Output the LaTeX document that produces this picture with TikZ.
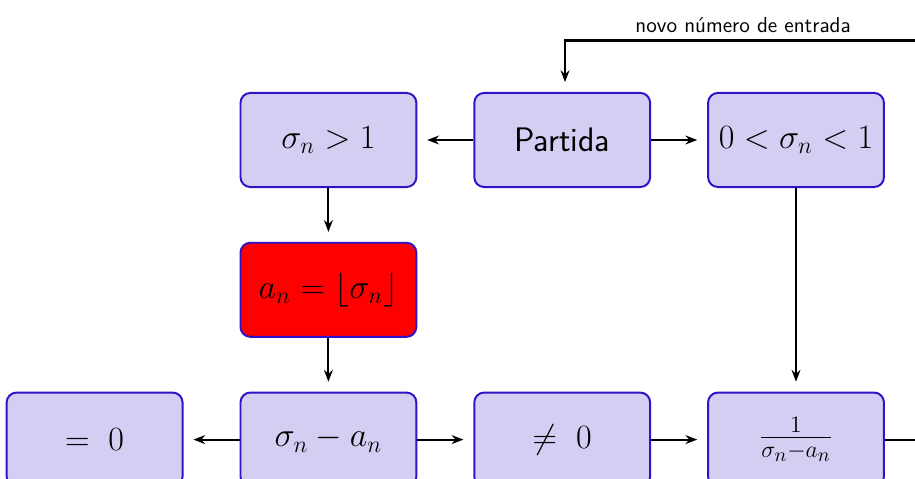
\documentclass[tikz,border=0pt]{standalone}
\usetikzlibrary{arrows.meta,positioning}
\definecolor{CaixaFill}{RGB}{211,206,242}
\definecolor{CaixaLine}{RGB}{45,20,200}
\tikzset{
  caixa/.style={rectangle,rounded corners=5pt,draw=CaixaLine,fill=CaixaFill,line width=1pt,minimum width=3.14cm,minimum height=1.68cm,align=center,font=\LARGE},
  seta/.style={-{Stealth[length=6pt]},line width=1.1pt,shorten >=5pt},
}
\begin{document}
\begin{tikzpicture}[node distance=1cm]
  \useasboundingbox (-10.04,-6.05) rectangle (6.30,2.5);
  \clip (-10.04,-6.05) rectangle (6.30,2.5);

  % ── Linha de cima ──
  \node[caixa] (partida) {\textsf{Partida}};
  \node[caixa, left=1cm of partida] (maior) {$\sigma_n > 1$};
  \node[caixa, right=1cm of partida] (menor) {$0 < \sigma_n < 1$};

  % ── Parte inteira ──
  \node[caixa, fill=red, below=0.96cm of maior] (parte) {$a_n = \lfloor \sigma_n \rfloor$};

  % ── Linha de baixo ──
  \node[caixa, below=0.96cm of parte] (resto) {$\sigma_n - a_n$};
  \node[caixa, left=1cm of resto] (zero) {$=\; 0$};
  \node[caixa, right=1cm of resto] (naozero) {$\neq\; 0$};
  \node[caixa, right=1cm of naozero] (inverso) {$\frac{1}{\sigma_n - a_n}$};

  \coordinate[right=1.2cm of inverso] (volta);
  \coordinate[above=0.92cm of partida, xshift=0.05cm] (topo);

  % ── Setas ──
  \draw[seta] (partida) -- (maior);
  \draw[seta] (partida) -- (menor);
  \draw[seta] (maior) -- (parte);
  \draw[seta] (parte) -- (resto);
  \draw[seta] (resto) -- (zero);
  \draw[seta] (resto) -- (naozero);
  \draw[seta] (naozero) -- (inverso);
  \draw[seta] (menor) -- (inverso);
  \draw[seta] (inverso) -- (volta) |- node[pos=0.77, above, font=\fontsize{11}{13}\selectfont\sffamily] {novo número de entrada} (topo) -- (topo |- partida.north);
\end{tikzpicture}
\end{document}
